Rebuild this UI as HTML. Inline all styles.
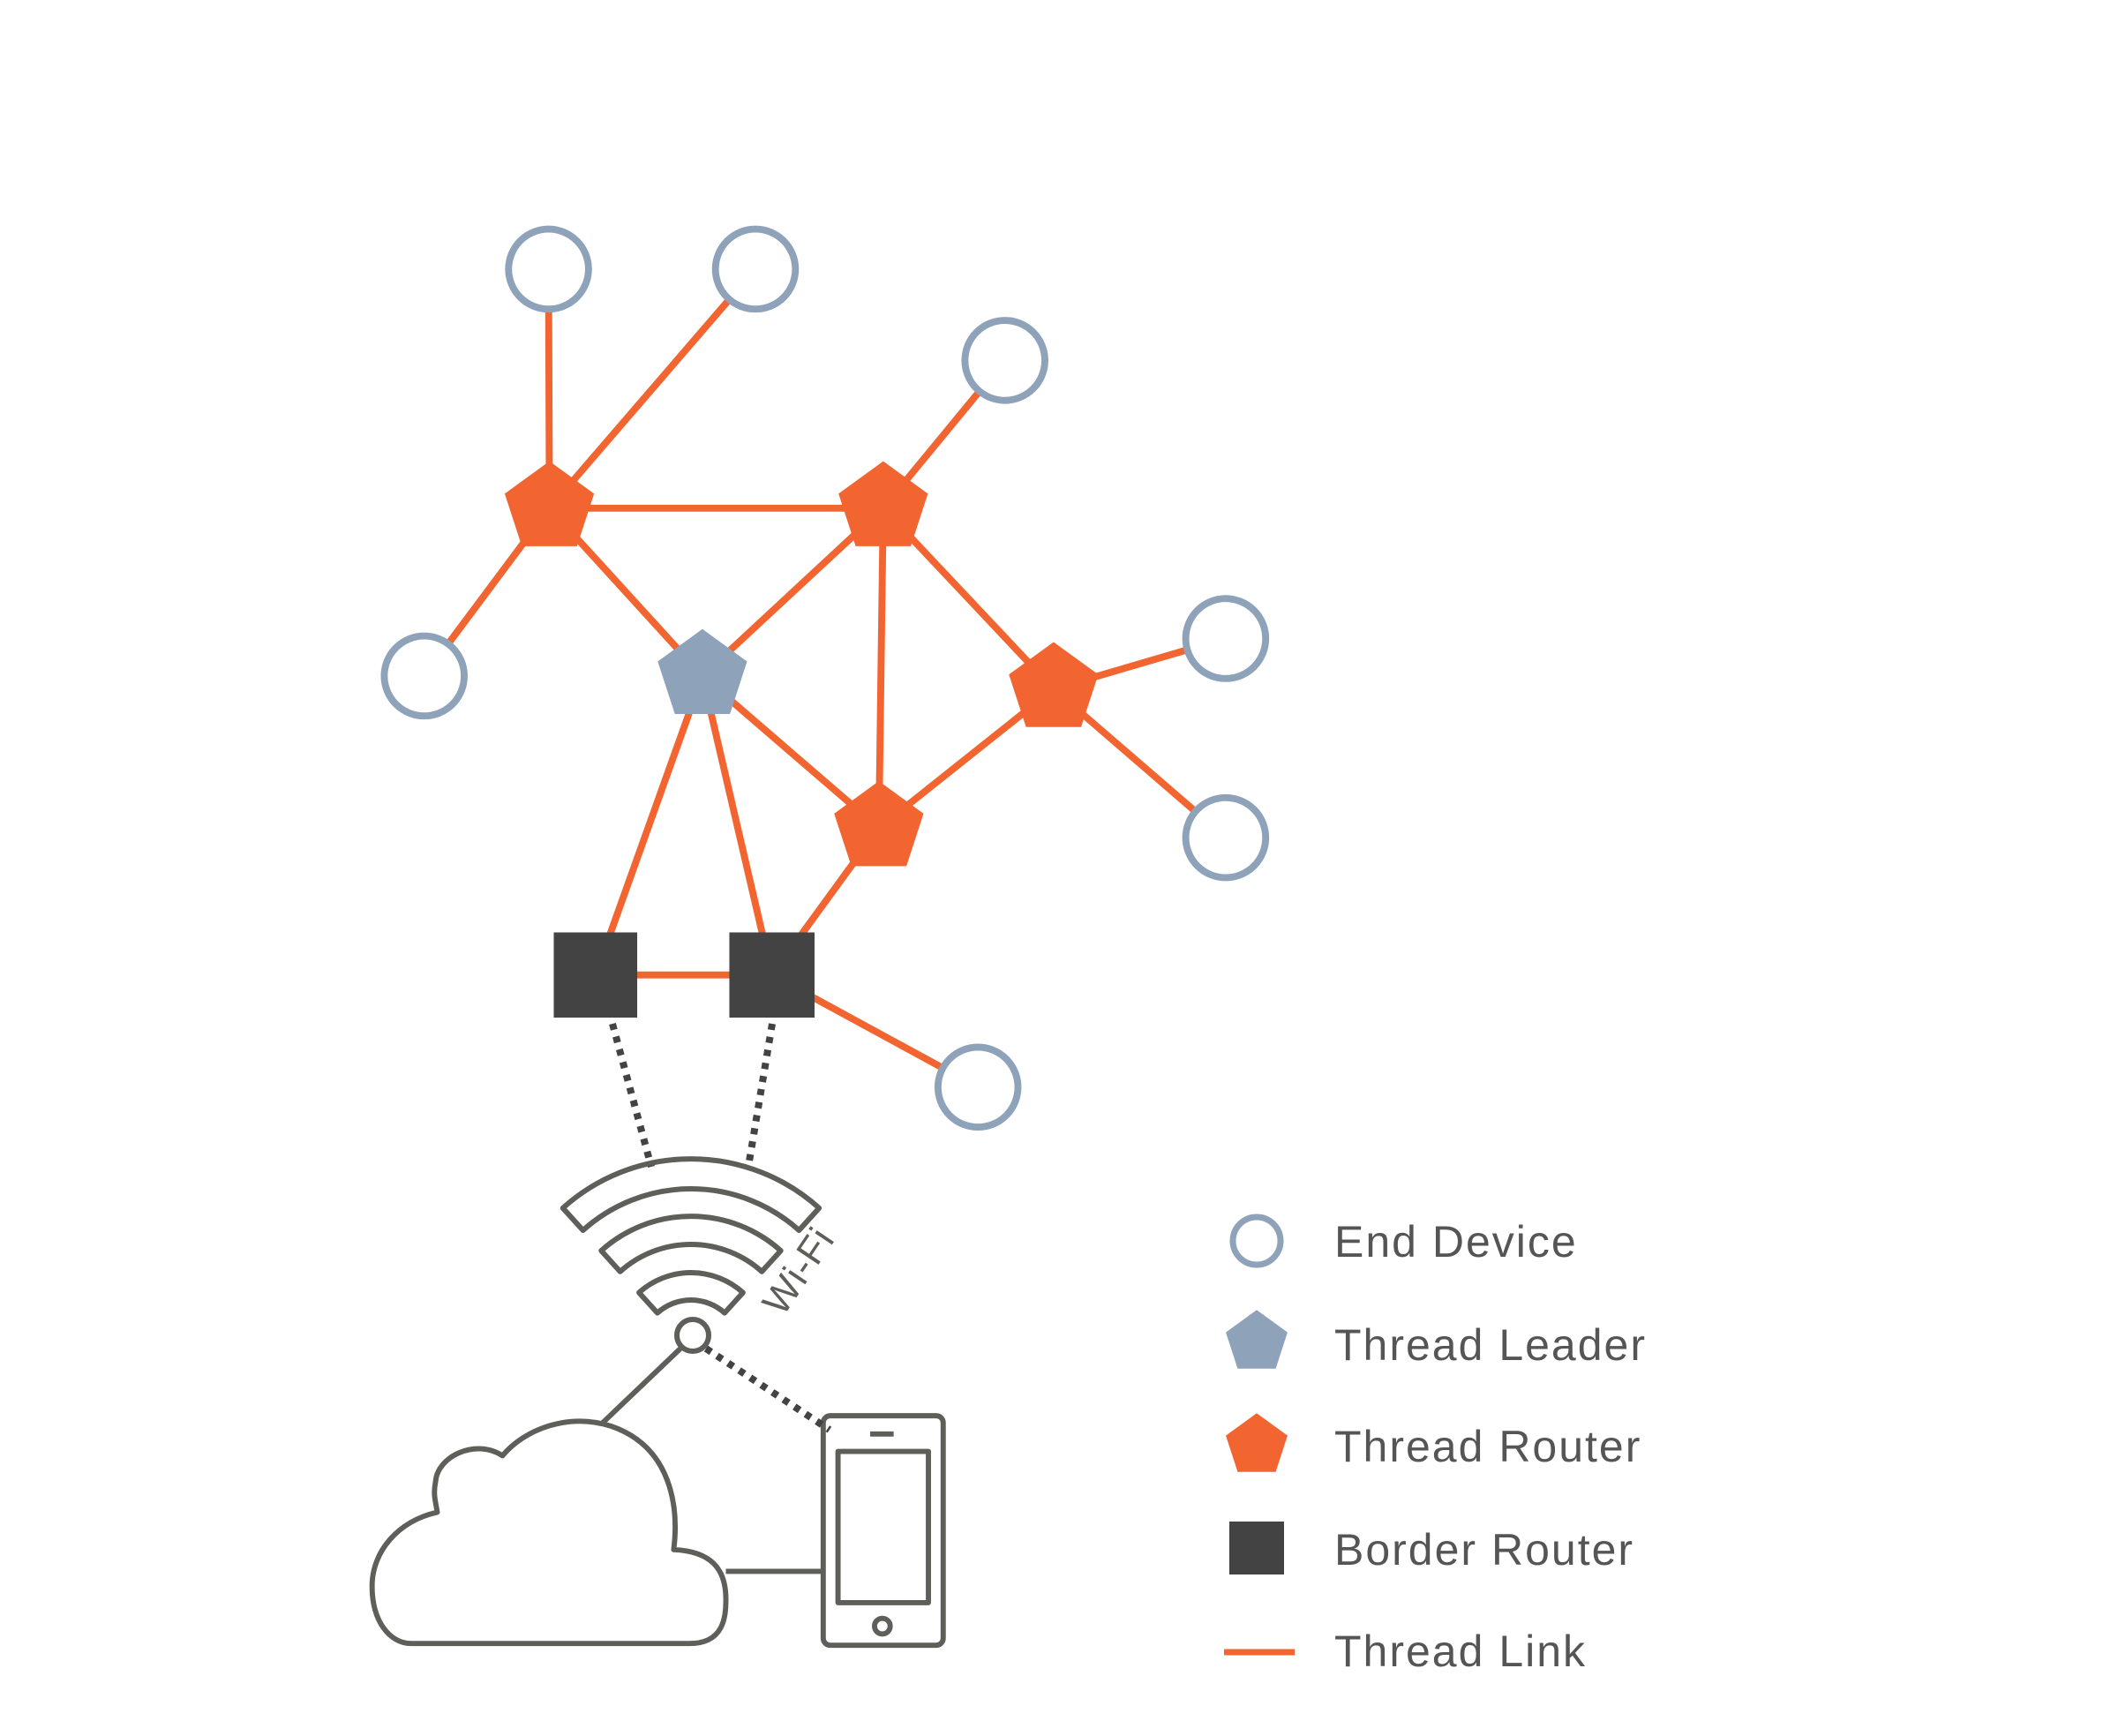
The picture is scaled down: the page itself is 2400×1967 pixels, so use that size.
<!DOCTYPE html>
<html><head><style>html,body{margin:0;padding:0;background:#fff}svg{display:block}</style></head>
<body>
<svg width="2400" height="1967" viewBox="0 0 2400 1967" xmlns="http://www.w3.org/2000/svg">
<defs>
<polygon id="pent" points="0,-54 51.4,-16.7 31.7,43.7 -31.7,43.7 -51.4,-16.7"/>
</defs>
<rect width="2400" height="1967" fill="#fff"/>
<g transform="translate(-6,0) translate(600,300) scale(0.985) translate(-600,-300)">
<g stroke="#f26531" stroke-width="8" fill="none">
<line x1="628" y1="305" x2="629" y2="580"/>
<line x1="866" y1="305" x2="629" y2="580"/>
<line x1="485" y1="773" x2="629" y2="580"/>
<line x1="629" y1="580" x2="1013" y2="580"/>
<line x1="629" y1="580" x2="805" y2="773"/>
<line x1="1153" y1="410" x2="1013" y2="580"/>
<line x1="1013" y1="580" x2="805" y2="773"/>
<line x1="1013" y1="580" x2="1008" y2="948"/>
<line x1="1013" y1="580" x2="1209" y2="788"/>
<line x1="1209" y1="788" x2="1407" y2="730"/>
<line x1="1209" y1="788" x2="1407" y2="959"/>
<line x1="1209" y1="788" x2="1008" y2="948"/>
<line x1="805" y1="773" x2="1008" y2="948"/>
<line x1="805" y1="773" x2="682" y2="1117"/>
<line x1="805" y1="773" x2="885" y2="1117"/>
<line x1="1008" y1="948" x2="885" y2="1117"/>
<line x1="682" y1="1117" x2="885" y2="1117"/>
<line x1="885" y1="1117" x2="1122" y2="1246"/>
</g>
<g fill="#fff" stroke="#8ea3ba" stroke-width="8">
<circle cx="628" cy="305" r="46"/>
<circle cx="866" cy="305" r="46"/>
<circle cx="1153" cy="410" r="46"/>
<circle cx="485" cy="773" r="46"/>
<circle cx="1407" cy="730" r="46"/>
<circle cx="1407" cy="959" r="46"/>
<circle cx="1122" cy="1246" r="46"/>
</g>
<g fill="#f26531">
<use href="#pent" x="629" y="580"/>
<use href="#pent" x="1013" y="580"/>
<use href="#pent" x="1209" y="788"/>
<use href="#pent" x="1008" y="948"/>
</g>
<use href="#pent" x="805" y="773" fill="#8ea3ba"/>
<rect x="634" y="1068" width="96" height="98" fill="#434343"/>
<rect x="836" y="1068" width="98" height="98" fill="#434343"/>
<g stroke="#5f5f5a" stroke-width="6" fill="none" stroke-linejoin="round">
<path d="M470,1886 L790,1886 C830,1886 832,1855 832,1835 C832,1800 815,1780 772,1778 C778,1730 770,1660 700,1636 C650,1620 600,1640 575,1670 C545,1650 500,1670 498,1700 C495,1715 498,1722 500,1735 C455,1745 425,1780 425,1820 C425,1860 445,1886 470,1886 Z"/>
<line x1="832" y1="1803" x2="943" y2="1803"/>
<rect x="944" y="1624" width="138" height="264" rx="8"/>
<rect x="961" y="1665" width="104" height="174"/>
<line x1="998" y1="1645" x2="1025" y2="1645"/>
<circle cx="1012" cy="1866" r="9"/>
</g>
</g>
<g stroke="#434343" stroke-width="8" stroke-dasharray="7,8" fill="none">
<line x1="694" y1="1160" x2="738" y2="1322"/>
<line x1="875" y1="1160" x2="848" y2="1322"/>
<line x1="800" y1="1528" x2="940" y2="1620"/>
</g>
<g stroke="#5f5f5a" stroke-width="6" fill="none" stroke-linejoin="round">
<path d="M637.8,1368.8 A217,217 0 0 1 928.2,1368.8 L905.4,1394 A183,183 0 0 0 660.6,1394 Z"/>
<path d="M681.3,1417.1 A152,152 0 0 1 884.7,1417.1 L863.3,1440.8 A120,120 0 0 0 702.7,1440.8 Z"/>
<path d="M724.1,1464.6 A88,88 0 0 1 841.9,1464.6 L821.1,1487.6 A57,57 0 0 0 744.9,1487.6 Z"/>
<circle cx="785" cy="1513" r="18"/>
<line x1="772" y1="1527" x2="683" y2="1612"/>
</g>
<text x="0" y="0" transform="translate(887,1493) rotate(-56)" font-family="Liberation Sans, sans-serif" font-size="44" letter-spacing="1" fill="#5f5f5a">Wi-Fi</text>
<circle cx="1424" cy="1406" r="27" fill="#fff" stroke="#8ea3ba" stroke-width="7"/>
<use href="#pent" transform="translate(1424,1521) scale(0.68)" fill="#8ea3ba"/>
<use href="#pent" transform="translate(1424,1638) scale(0.68)" fill="#f26531"/>
<rect x="1393" y="1724" width="62" height="60" fill="#434343"/>
<line x1="1387" y1="1872" x2="1467" y2="1872" stroke="#f26531" stroke-width="7"/>
<g font-family="Liberation Sans, sans-serif" font-size="50" letter-spacing="2" fill="#555">
<text x="1512" y="1424">End Device</text>
<text x="1512" y="1541">Thread Leader</text>
<text x="1512" y="1656">Thread Router</text>
<text x="1512" y="1773">Border Router</text>
<text x="1512" y="1888">Thread Link</text>
</g>
</svg>
</body></html>
